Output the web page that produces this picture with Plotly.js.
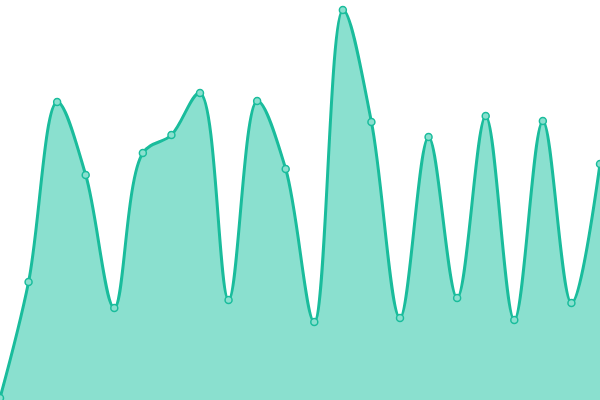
<!DOCTYPE html>
<html>
<head>
<meta charset="utf-8">
<script src="https://cdn.plot.ly/plotly-3.0.1.min.js"></script>
<style>
  html, body { margin: 0; padding: 0; background: #fff; }
  #plot { width: 600px; height: 400px; }
</style>
</head>
<body>
<div id="plot"></div>
<script>
// values (pixel height above the bottom edge)
var xIndex = [0, 1, 2, 3, 4, 5, 6, 7, 8, 9, 10, 11, 12, 13, 14, 15, 16, 17, 18, 19, 20, 21];
var values = [2, 118, 298, 225, 92, 247, 265, 307, 100, 299, 231, 78, 390, 278, 82, 263, 102, 284, 80, 279, 97, 236];

var trace = {
    x: xIndex,
    y: values,
    type: 'scatter',
    mode: 'lines+markers',
    fill: 'tozeroy',
    fillcolor: '#8ae0cf',
    line: { color: '#1abc9c', width: 3, shape: 'spline', smoothing: 1 },
    marker: { size: 7, color: '#8ae0cf', line: { color: '#1abc9c', width: 1.5 } },
    hoverinfo: 'none',
    cliponaxis: true
};

var layout = {
    width: 600,
    height: 400,
    margin: { l: 0, r: 0, t: 0, b: 0 },
    paper_bgcolor: '#ffffff',
    plot_bgcolor: '#ffffff',
    showlegend: false,
    xaxis: { range: [0, 21], visible: false, fixedrange: true },
    yaxis: { range: [0, 400], visible: false, fixedrange: true }
};

Plotly.newPlot('plot', [trace], layout, { displayModeBar: false, staticPlot: true });
</script>
</body>
</html>
